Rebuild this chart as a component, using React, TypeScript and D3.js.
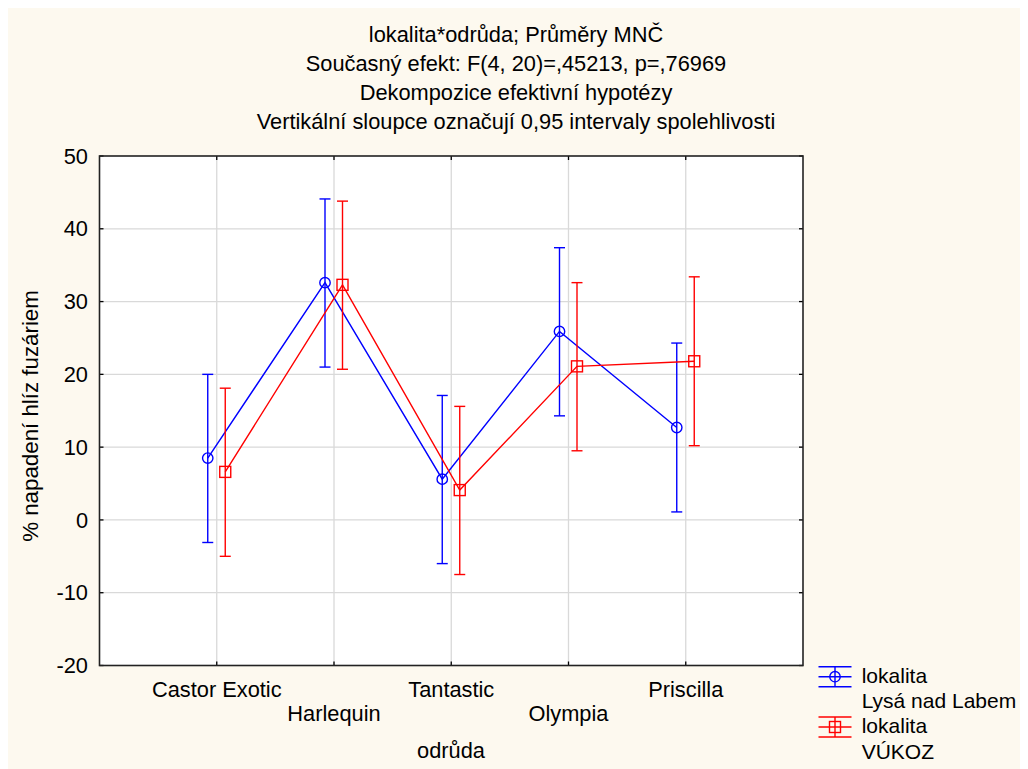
import React from "react";
import * as d3 from "d3";

const titleLines = [
  "lokalita*odrůda; Průměry MNČ",
  "Současný efekt: F(4, 20)=,45213, p=,76969",
  "Dekompozice efektivní hypotézy",
  "Vertikální sloupce označují 0,95 intervaly spolehlivosti",
];
const categories = ["Castor Exotic", "Harlequin", "Tantastic", "Olympia", "Priscilla"];
const yTicks = [-20, -10, 0, 10, 20, 30, 40, 50];

const lysaMean = [8.5, 32.6, 5.6, 25.9, 12.7];
const lysaLow = [-3.1, 21.0, -6.0, 14.3, 1.1];
const lysaHigh = [20.0, 44.1, 17.1, 37.4, 24.3];

const vukozMean = [6.6, 32.3, 4.1, 21.1, 21.8];
const vukozLow = [-5.0, 20.7, -7.5, 9.5, 10.2];
const vukozHigh = [18.1, 43.8, 15.6, 32.6, 33.4];

const legendLines = ["lokalita", "Lysá nad Labem", "lokalita", "VÚKOZ"];
const xTitle = "odrůda";
const yTitle = "% napadení hlíz fuzáriem";

const FONT = "'Liberation Sans', Arial, sans-serif";
const FS = 21.8;

export default function App() {
  const left = 99.5, right = 803, top = 156, bottom = 665.5;
  const x = d3.scaleLinear().domain([0, categories.length + 1]).range([left, right]);
  const y = d3.scaleLinear().domain([-20, 50]).range([bottom, top]);
  const blue = "#0000ff", red = "#ff0000";
  const sw = 1.4;

  const series = [
    { mean: lysaMean, low: lysaLow, high: lysaHigh, color: blue, off: -9, shape: "circle" },
    { mean: vukozMean, low: vukozLow, high: vukozHigh, color: red, off: 8.5, shape: "square" },
  ];

  const line = d3.line<number>().x((_, i) => x(i + 1)).y((d) => y(d));

  const marker = (shape: string, cx: number, cy: number, color: string, key: string) =>
    shape === "circle" ? (
      <circle key={key} cx={cx} cy={cy} r={5.2} fill="none" stroke={color} strokeWidth={sw} />
    ) : (
      <rect key={key} x={cx - 5.5} y={cy - 5.5} width={11} height={11} fill="none" stroke={color} strokeWidth={sw} />
    );

  return (
    <svg width={1020} height={761} style={{ display: "block", background: "#fdf9ef" }} fontFamily={FONT}>
      <g transform="translate(-8,-8)">
        {titleLines.map((t, i) => (
          <text key={t} x={516} y={42 + i * 29} textAnchor="middle" fontSize={FS} fill="#000">
            {t}
          </text>
        ))}
        <rect x={left} y={top} width={right - left} height={bottom - top} fill="#fff" />
        {categories.map((c, i) => (
          <line key={"gx" + c} x1={x(i + 1)} x2={x(i + 1)} y1={top} y2={bottom} stroke="#d9d9d9" strokeWidth={1.3} />
        ))}
        {yTicks.slice(1, -1).map((t) => (
          <line key={"gy" + t} x1={left} x2={right} y1={y(t)} y2={y(t)} stroke="#d9d9d9" strokeWidth={1.3} />
        ))}
        {categories.map((c, i) => (
          <g key={"tx" + c}>
            <line x1={x(i + 1)} x2={x(i + 1)} y1={top} y2={top + 4} stroke="#000" strokeWidth={1.3} />
            <line x1={x(i + 1)} x2={x(i + 1)} y1={bottom} y2={bottom - 4} stroke="#000" strokeWidth={1.3} />
          </g>
        ))}
        {yTicks.map((t) => (
          <g key={"ty" + t}>
            <line x1={left} x2={left + 4} y1={y(t)} y2={y(t)} stroke="#000" strokeWidth={1.3} />
            <line x1={right} x2={right - 4} y1={y(t)} y2={y(t)} stroke="#000" strokeWidth={1.3} />
            <text x={88} y={y(t) + 7.7} textAnchor="end" fontSize={FS}>
              {t}
            </text>
          </g>
        ))}
        {series.map((s, si) => (
          <g key={"s" + si} transform={`translate(${s.off},0)`}>
            <path d={line(s.mean) || ""} fill="none" stroke={s.color} strokeWidth={sw} />
            {s.mean.map((m, i) => {
              const cx = x(i + 1);
              return (
                <g key={i}>
                  <line x1={cx} x2={cx} y1={y(s.low[i])} y2={y(s.high[i])} stroke={s.color} strokeWidth={sw} />
                  <line x1={cx - 5.5} x2={cx + 5.5} y1={y(s.low[i])} y2={y(s.low[i])} stroke={s.color} strokeWidth={sw} />
                  <line x1={cx - 5.5} x2={cx + 5.5} y1={y(s.high[i])} y2={y(s.high[i])} stroke={s.color} strokeWidth={sw} />
                  {marker(s.shape, cx, y(m), s.color, "m" + i)}
                </g>
              );
            })}
          </g>
        ))}
        <rect x={left} y={top} width={right - left} height={bottom - top} fill="none" stroke="#222" strokeWidth={1.6} />
        {categories.map((c, i) => (
          <text key={"lx" + c} x={x(i + 1)} y={i % 2 === 0 ? 697.3 : 720.5} textAnchor="middle" fontSize={FS}>
            {c}
          </text>
        ))}
        <text x={451} y={757.5} textAnchor="middle" fontSize={FS}>
          {xTitle}
        </text>
        <text transform="translate(38,416) rotate(-90)" textAnchor="middle" fontSize={22.3}>
          {yTitle}
        </text>
        {series.map((s, si) => {
          const cy = si === 0 ? 676.7 : 727;
          const cx = 835;
          return (
            <g key={"lg" + si}>
              {[-10, 0, 10].map((dy) => (
                <line key={dy} x1={cx - 16.5} x2={cx + 16.5} y1={cy + dy} y2={cy + dy} stroke={s.color} strokeWidth={sw} />
              ))}
              <line x1={cx} x2={cx} y1={cy - 10} y2={cy + 10} stroke={s.color} strokeWidth={sw} />
              {marker(s.shape, cx, cy, s.color, "lm" + si)}
            </g>
          );
        })}
        {legendLines.map((t, i) => (
          <text key={"lt" + i} x={861.7} y={[683.3, 708.3, 732.7, 759][i]} fontSize={21}>
            {t}
          </text>
        ))}
      </g>
    </svg>
  );
}
